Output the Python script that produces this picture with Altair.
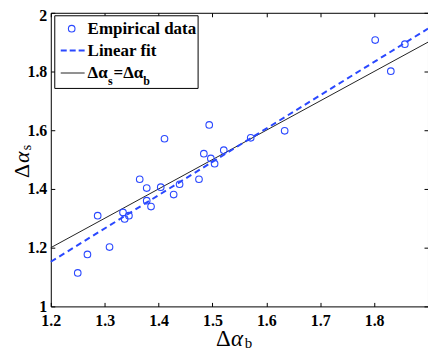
import altair as alt
import pandas as pd

# ---- data ----
alpha_b = [1.250, 1.268, 1.287, 1.309, 1.334, 1.337, 1.345, 1.365, 1.378, 1.378,
           1.386, 1.404, 1.411, 1.428, 1.439, 1.475, 1.484, 1.494, 1.497, 1.504,
           1.521, 1.571, 1.634, 1.802, 1.831, 1.857]
alpha_s = [1.114, 1.177, 1.309, 1.202, 1.320, 1.298, 1.309, 1.433, 1.403, 1.360,
           1.340, 1.406, 1.571, 1.381, 1.416, 1.433, 1.520, 1.618, 1.504, 1.486,
           1.532, 1.574, 1.598, 1.907, 1.801, 1.893]
fit_x = [1.2, 1.9]
fit_y = [1.152, 1.946]
ident_x = [1.2, 1.9]
ident_y = [1.2, 1.9]
x_ticks = [1.2, 1.3, 1.4, 1.5, 1.6, 1.7, 1.8]
y_ticks = [1.0, 1.2, 1.4, 1.6, 1.8, 2.0]
legend_labels = ["Empirical data", "Linear fit"]

BLUE = "#2a48ff"
SERIF = "Liberation Serif, Times New Roman, Times, DejaVu Serif, serif"

df_pts = pd.DataFrame({"x": alpha_b, "y": alpha_s})
df_fit = pd.DataFrame({"x": fit_x, "y": fit_y})
df_id = pd.DataFrame({"x": ident_x, "y": ident_y})
one = pd.DataFrame({"k": [0]})

xscale = alt.Scale(domain=[1.2, 1.9], nice=False, zero=False)
yscale = alt.Scale(domain=[1.0, 2.0], nice=False, zero=False)

ax = dict(domain=False, grid=False, ticks=True, tickSize=4, offset=-4,
          tickColor="black", tickWidth=1, labelFont=SERIF,
          labelFontWeight="bold", labelFontSize=16, labelColor="black",
          labelFlush=False, labelOverlap=False, title=None)

ident = alt.Chart(df_id).mark_line(color="#222222", strokeWidth=1).encode(
    x=alt.X("x:Q", scale=xscale,
            axis=alt.Axis(orient="top", values=x_ticks, labels=False, **ax)),
    y=alt.Y("y:Q", scale=yscale,
            axis=alt.Axis(orient="right", values=y_ticks, labels=False, **ax)),
)

fit = alt.Chart(df_fit).mark_line(color=BLUE, strokeWidth=2, strokeDash=[6, 4]).encode(
    x=alt.X("x:Q", scale=xscale, axis=None),
    y=alt.Y("y:Q", scale=yscale, axis=None),
)

points = alt.Chart(df_pts).mark_point(shape="circle", filled=False, color=BLUE,
                                      strokeWidth=1.1, size=44, opacity=1).encode(
    x=alt.X("x:Q", scale=xscale,
            axis=alt.Axis(orient="bottom", values=x_ticks, format=".1f",
                          labelPadding=6, **ax)),
    y=alt.Y("y:Q", scale=yscale,
            axis=alt.Axis(orient="left", values=y_ticks, format=".1~f",
                          labelPadding=4,
                          labelOffset={"condition": {"test": "datum.value >= 2", "value": 3},
                                       "value": 0},
                          **ax)),
)

# ---- legend (drawn by hand to allow subscripts) ----
base = alt.Chart(one)
leg_box = base.mark_rect(fill="white", stroke="black", strokeWidth=1).encode(
    x=alt.value(4), x2=alt.value(148), y=alt.value(3), y2=alt.value(76))
leg_pt = base.mark_point(shape="circle", filled=False, color=BLUE,
                         strokeWidth=1.1, size=44, opacity=1).encode(
    x=alt.value(21), y=alt.value(16))
leg_fit = base.mark_rule(color=BLUE, strokeWidth=2, strokeDash=[6, 3]).encode(
    x=alt.value(10), x2=alt.value(34), y=alt.value(38))
leg_id = base.mark_rule(color="#222222", strokeWidth=1).encode(
    x=alt.value(10), x2=alt.value(34), y=alt.value(60.5))

def txt(s, x, y, size, weight="bold", style="normal", angle=0):
    return base.mark_text(text=s, align="left", baseline="alphabetic",
                          font=SERIF, fontSize=size, fontWeight=weight,
                          fontStyle=style, color="black", angle=angle).encode(
        x=alt.value(x), y=alt.value(y))

leg_t1 = txt(legend_labels[0], 37, 21, 17)
leg_t2 = txt(legend_labels[1], 37, 43.5, 17)
leg_t3a = txt("Δα", 37, 66, 17)
leg_t3b = txt("s", 57.5, 73, 12)
leg_t3c = txt("=Δα", 63, 66, 17)
leg_t3d = txt("b", 93, 73, 12)

# ---- axis titles ----
xt1 = txt("Δ", 166, 335, 23, weight="normal")
xt2 = txt("α", 181, 335, 23, weight="normal", style="italic")
xt3 = txt("b", 195, 337, 15, weight="normal")
yt1 = txt("Δ", -22, 166, 22, weight="normal", angle=270)
yt2 = txt("α", -22, 151, 22, weight="normal", style="italic", angle=270)
yt3 = txt("s", -20, 138, 14, weight="normal", angle=270)

chart = alt.layer(
    ident, fit, points,
    leg_box, leg_pt, leg_fit, leg_id, leg_t1, leg_t2, leg_t3a, leg_t3b, leg_t3c, leg_t3d,
    xt1, xt2, xt3, yt1, yt2, yt3,
).resolve_axis(x="independent", y="independent").properties(
    width=379, height=295,
    autosize=alt.AutoSizeParams(type="none"),
    padding={"left": 43, "top": 4, "right": 0, "bottom": 43},
    background="white",
).configure_view(stroke="black", strokeWidth=1)

chart.save("out.html", embed_options={"renderer": "svg", "actions": False})
